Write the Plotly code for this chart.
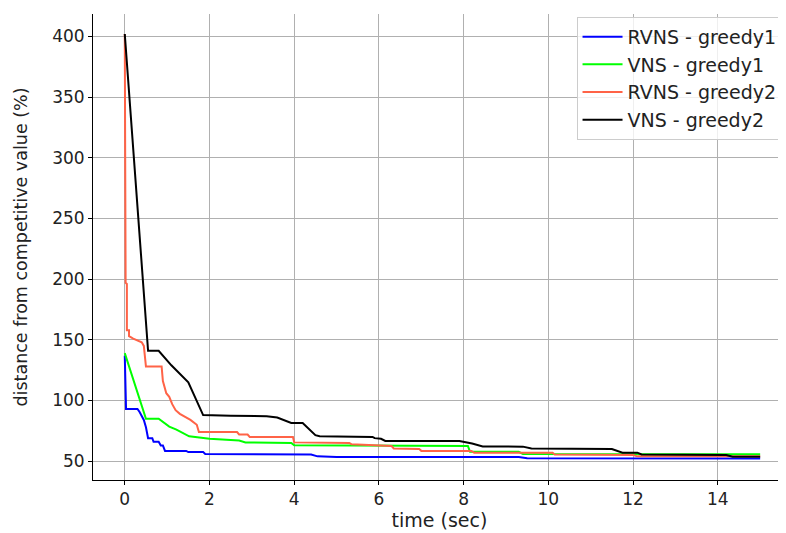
import plotly.graph_objects as go

# Data (time in sec, distance in %)
rvns_g1_t = [0, 0.03, 0.3, 0.35, 0.45, 0.5, 0.55, 0.65, 0.68, 0.8, 0.85, 0.9, 0.95, 1.45, 1.5, 1.85, 1.9, 4.4, 4.55, 5.0, 9.3, 9.5, 15]
rvns_g1_v = [137, 93, 93, 90.5, 84, 78, 69, 69, 66, 66, 63, 63, 58.5, 58.5, 57.5, 57.5, 56, 55.5, 54, 53.5, 53.5, 52.5, 52.3]

vns_g1_t = [0, 0.5, 0.8, 1.05, 1.22, 1.52, 2.0, 2.7, 2.85, 3.93, 4.0, 6.3, 8.1, 8.15, 9.3, 9.4, 15]
vns_g1_v = [139, 85, 85, 78.5, 76, 70.5, 68.5, 67, 65.5, 65, 63.2, 62.6, 62.5, 57.8, 57.7, 56, 55.8]

rvns_g2_t = [0, 0.02, 0.05, 0.05, 0.1, 0.1, 0.2, 0.4, 0.45, 0.5, 0.87, 0.9, 0.98, 1.05, 1.12, 1.2, 1.3, 1.42, 1.55, 1.7, 1.75, 2.65, 2.7, 2.9, 2.95, 3.97, 4.0, 5.3, 5.35, 6.3, 6.35, 6.95, 7.0, 8.18, 8.25, 10.1, 10.15, 12.0, 12.1, 15]
rvns_g2_v = [402, 197, 196, 158, 158, 153, 151, 148, 145, 128, 128, 116, 106, 103, 97, 92, 89, 86.5, 84, 80, 74, 74, 72, 72, 70, 70, 65.5, 65, 64, 62.5, 60.5, 60, 58.5, 58.5, 57, 57, 55.5, 55, 54, 54]

vns_g2_t = [0, 0.55, 0.8, 1.1, 1.5, 1.85, 2.5, 3.35, 3.6, 3.93, 4.2, 4.5, 4.6, 5.85, 5.9, 6.05, 6.15, 7.9, 8.2, 8.45, 9.4, 9.6, 11.5, 11.75, 12.1, 12.2, 14.2, 14.35, 15]
vns_g2_v = [402, 141, 141, 129, 115, 88, 87.5, 87, 86, 81.5, 81.5, 71.5, 70.5, 70, 69, 68.5, 66.7, 66.7, 64.5, 62.2, 62, 60.4, 60, 57, 57, 55.5, 55, 53.6, 53.6]

series_names = ["RVNS - greedy1", "VNS - greedy1", "RVNS - greedy2", "VNS - greedy2"]
series_colors = ["#0000ff", "#00ff00", "#ff6347", "#000000"]

x_ticks = [0, 2, 4, 6, 8, 10, 12, 14]
y_ticks = [50, 100, 150, 200, 250, 300, 350, 400]

FAMILY = "DejaVu Sans"
TEXT = "#222222"

fig = go.Figure()
for name, color, t, v in zip(series_names, series_colors,
                             [rvns_g1_t, vns_g1_t, rvns_g2_t, vns_g2_t],
                             [rvns_g1_v, vns_g1_v, rvns_g2_v, vns_g2_v]):
    fig.add_trace(go.Scatter(x=t, y=v, mode="lines", name=name,
                             line=dict(color=color, width=2)))

fig.update_layout(
    width=778, height=525,
    margin=dict(l=85, r=0, t=6, b=53, autoexpand=False),
    paper_bgcolor="white", plot_bgcolor="white",
    font=dict(family=FAMILY, size=16, color=TEXT),
    showlegend=True,
    legend=dict(x=0.995, xanchor="right", y=0.994, yanchor="top",
                bgcolor="rgba(255,255,255,0.8)", bordercolor="#cccccc", borderwidth=1,
                font=dict(family=FAMILY, size=19, color=TEXT),
                itemwidth=40, tracegroupgap=0),
)
fig.update_xaxes(range=[-0.75, 15.61], tickvals=x_ticks, ticktext=[str(v) for v in x_ticks],
                 showgrid=True, gridcolor="#b0b0b0", gridwidth=1,
                 showline=True, linecolor="black", linewidth=1,
                 ticks="outside", ticklen=4, tickcolor="black", automargin=False,
                 tickfont=dict(family=FAMILY, size=17, color=TEXT),
                 zeroline=False, title=dict(text="time (sec)", standoff=5,
                                            font=dict(family=FAMILY, size=19, color=TEXT)))
fig.update_yaxes(range=[34.5, 418.5], tickvals=y_ticks, ticktext=[str(v) for v in y_ticks],
                 showgrid=True, gridcolor="#b0b0b0", gridwidth=1,
                 showline=True, linecolor="black", linewidth=1,
                 ticks="outside", ticklen=4, tickcolor="black", automargin=False,
                 tickfont=dict(family=FAMILY, size=17, color=TEXT),
                 zeroline=False, title=dict(text="distance from competitive value (%)", standoff=20,
                                            font=dict(family=FAMILY, size=17.5, color=TEXT)))

fig.write_html("out.html")
